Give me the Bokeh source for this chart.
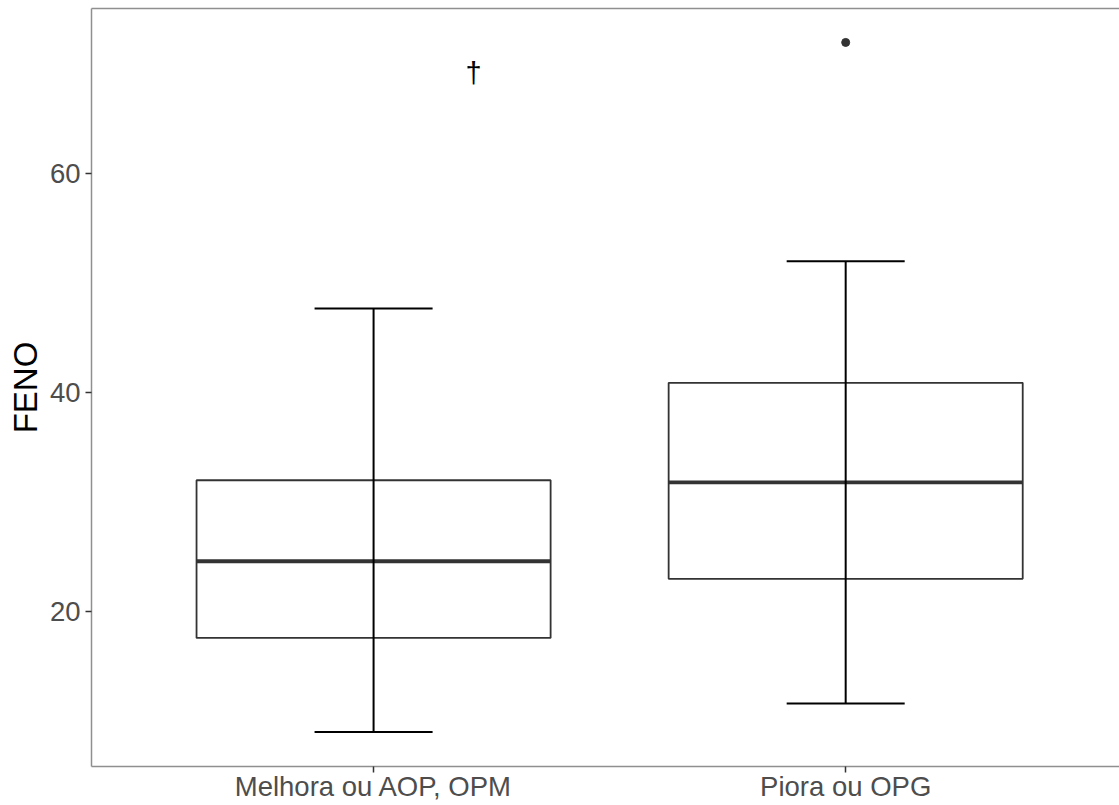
from bokeh.plotting import figure
from bokeh.models import Range1d, FixedTicker, LinearAxis, ColumnDataSource
from bokeh.core.properties import value
from bokeh.embed import file_html
from bokeh.resources import INLINE

categories = ["Melhora ou AOP, OPM", "Piora ou OPG"]
positions = [1, 2]
lower = [9.0, 11.6]
q1 = [17.6, 23.0]
median = [24.6, 31.8]
q3 = [32.0, 40.9]
upper = [47.7, 52.0]
outlier_x = [2]
outlier_y = [72.0]
annot_x = [1.212]
annot_y = [69.2]
annot_text = ["\u2020"]
y_ticks = [20, 40, 60]

FONT = "Liberation Sans"
BORDER = "#8f8f8f"

p = figure(width=1119, height=805, output_backend="svg", toolbar_location=None,
           x_range=Range1d(0.4025, 2.58), y_range=Range1d(5.85, 75.1),
           min_border_left=91, min_border_right=0, min_border_top=8, min_border_bottom=39)
p.outline_line_color = None
p.xgrid.visible = False
p.ygrid.visible = False
p.background_fill_color = "white"
p.border_fill_color = "white"

box_w = 0.75
cap_w = 0.25
src = ColumnDataSource(dict(
    x=positions, lower=lower, q1=q1, median=median, q3=q3, upper=upper,
    left=[v - box_w / 2 for v in positions], right=[v + box_w / 2 for v in positions],
    cl=[v - cap_w / 2 for v in positions], cr=[v + cap_w / 2 for v in positions],
))

# boxes
p.quad(left="left", right="right", bottom="q1", top="q3", source=src,
       fill_color="white", line_color="#333333", line_width=1.8)
# median
p.segment(x0="left", x1="right", y0="median", y1="median", source=src,
          line_color="#333333", line_width=3.8)
# whisker line through box
p.segment(x0="x", x1="x", y0="lower", y1="upper", source=src,
          line_color="black", line_width=2)
# caps
p.segment(x0="cl", x1="cr", y0="lower", y1="lower", source=src,
          line_color="black", line_width=2)
p.segment(x0="cl", x1="cr", y0="upper", y1="upper", source=src,
          line_color="black", line_width=2)
# outlier
p.scatter(x=outlier_x, y=outlier_y, size=8, color="#333333")
# annotation
p.text(x=annot_x, y=annot_y, text=annot_text, text_align="center", text_baseline="middle",
       text_font=value(FONT), text_font_size="29px", text_color="black")

# axes styling
for ax in (p.xaxis[0], p.yaxis[0]):
    ax.axis_line_color = BORDER
    ax.axis_line_width = 1.5
    ax.major_tick_line_color = "#333333"
    ax.major_tick_line_width = 1.5
    ax.major_tick_out = 6
    ax.major_tick_in = 0
    ax.minor_tick_line_color = None
    ax.major_label_text_font = FONT
    ax.major_label_text_font_size = "27.5px"
    ax.major_label_text_color = "#4d4d4d"

p.xaxis[0].ticker = FixedTicker(ticks=positions)
p.xaxis[0].major_label_overrides = {pos: c for pos, c in zip(positions, categories)}
p.xaxis[0].major_label_standoff = -2
p.yaxis[0].ticker = FixedTicker(ticks=y_ticks)
p.yaxis[0].major_label_standoff = 5
p.yaxis[0].axis_label = "FENO"
p.yaxis[0].axis_label_text_font = FONT
p.yaxis[0].axis_label_text_font_size = "33px"
p.yaxis[0].axis_label_text_font_style = "normal"
p.yaxis[0].axis_label_text_color = "black"
p.yaxis[0].axis_label_standoff = 3

top_ax = LinearAxis(ticker=FixedTicker(ticks=[]), axis_line_color=BORDER, axis_line_width=1.5,
                    major_tick_line_color=None, minor_tick_line_color=None,
                    major_label_text_font_size="0px", major_tick_out=0, major_tick_in=0,
                    major_label_standoff=0)
p.add_layout(top_ax, "above")

open("out.html", "w").write(file_html(p, INLINE))
